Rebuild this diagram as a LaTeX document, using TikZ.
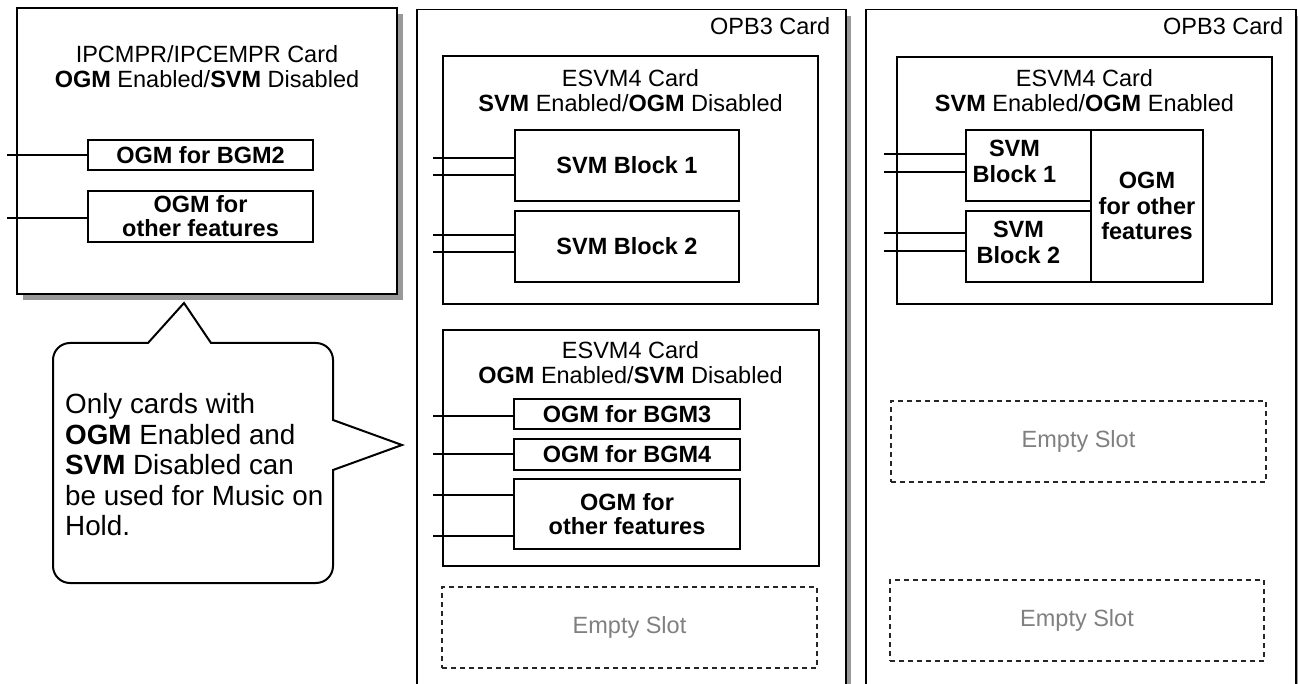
\documentclass[tikz,border=0pt]{standalone}
\usepackage{fontspec}
\setmainfont{Liberation Sans}
\begin{document}
\begin{tikzpicture}[x=1pt,y=-1pt,
  shadowfill/.style={fill=black!40,draw=none},
  card/.style={draw,fill=white,line width=1.5pt,inner sep=0pt},
  blk/.style={draw,fill=white,line width=1.4pt,inner sep=0pt,align=center,font=\bfseries\fontsize{23.5}{24}\selectfont},
  blklbl/.style={inner sep=0pt,align=center,font=\bfseries\fontsize{23.5}{26}\selectfont},
  ttl/.style={inner sep=0pt,align=center,font=\fontsize{23.5}{25}\selectfont},
  slotbox/.style={draw=black!85,dash pattern=on 5pt off 4pt,line width=1.2pt,text=black!50,inner sep=0pt,font=\fontsize{23.5}{25}\selectfont},
  wire/.style={line width=2.2pt}]

\useasboundingbox (0,0) rectangle (1298,684);
\clip (0,0) rectangle (1298,684);

% ---------- left card ----------
\fill[shadowfill] (23,14) rectangle (403,300);
\node[card,minimum width=380pt,minimum height=286pt] (ipc) at (207,151) {};
\node[ttl] (ipct) at (207,67) {IPCMPR/IPCEMPR Card\\\textbf{OGM} Enabled/\textbf{SVM} Disabled};
\node[blk,minimum width=225pt,minimum height=30pt] (bgmtwo) at (200.5,155) {OGM for BGM2};
\node[blk,minimum width=225pt,minimum height=51pt] (ogmA) at (200.5,216.5) {OGM for\\other features};
\coordinate (wA1) at (7,155);
\coordinate (wA2) at (7,218);
\draw[wire] (wA1) -- (wA1 -| bgmtwo.west);
\draw[wire] (wA2) -- (wA2 -| ogmA.west);

% ---------- callout ----------
\draw[line width=2pt,fill=white] (70,343) -- (148,343) -- (184,303) -- (211,343) -- (316,343)
  .. controls (325.39,343) and (333,350.61) .. (333,360)
  -- (333,420) -- (402,445) -- (333,470) -- (333,566)
  .. controls (333,575.39) and (325.39,583) .. (316,583)
  -- (70,583)
  .. controls (60.61,583) and (53,575.39) .. (53,566)
  -- (53,360)
  .. controls (53,350.61) and (60.61,343) .. (70,343) -- cycle;
\node[inner sep=0pt,align=left,anchor=west,font=\fontsize{27.8}{30.5}\selectfont] (callt) at (65,465)
  {Only cards with\\\textbf{OGM} Enabled and\\\textbf{SVM} Disabled can\\be used for Music on\\Hold.};

% ---------- middle OPB3 card ----------
\fill[shadowfill] (422,16) rectangle (851,720);
\node[card,minimum width=429pt,minimum height=711pt,anchor=north west] (opbA) at (416,9) {};
\node[ttl,anchor=base east] (opbAl) at (830.5,34.3) {OPB3 Card};

\node[card,line width=1.3pt,minimum width=375pt,minimum height=248pt] (esvA) at (630.5,180) {};
\node[ttl] (esvAt) at (630.5,91) {ESVM4 Card\\\textbf{SVM} Enabled/\textbf{OGM} Disabled};
\node[blk,minimum width=224pt,minimum height=71pt] (sbA1) at (627,165.5) {SVM Block 1};
\node[blk,minimum width=224pt,minimum height=71pt] (sbA2) at (627,246.5) {SVM Block 2};
\coordinate (wB1) at (433,158);
\coordinate (wB2) at (433,175);
\coordinate (wB3) at (433,235);
\coordinate (wB4) at (433,252);
\draw[wire] (wB1) -- (wB1 -| sbA1.west);
\draw[wire] (wB2) -- (wB2 -| sbA1.west);
\draw[wire] (wB3) -- (wB3 -| sbA2.west);
\draw[wire] (wB4) -- (wB4 -| sbA2.west);

\node[card,line width=1.3pt,minimum width=376pt,minimum height=236pt] (esvB) at (631,448) {};
\node[ttl] (esvBt) at (630.5,362.4) {ESVM4 Card\\\textbf{OGM} Enabled/\textbf{SVM} Disabled};
\node[blk,minimum width=226pt,minimum height=30pt] (bgmthree) at (627,414) {OGM for BGM3};
\node[blk,minimum width=226pt,minimum height=31pt] (bgmfour) at (627,454.5) {OGM for BGM4};
\node[blk,minimum width=226pt,minimum height=70pt] (ogmB) at (627,514) {OGM for\\other features};
\coordinate (wC1) at (433,416);
\coordinate (wC2) at (433,454);
\coordinate (wC3) at (433,495);
\coordinate (wC4) at (433,536);
\draw[wire] (wC1) -- (wC1 -| bgmthree.west);
\draw[wire] (wC2) -- (wC2 -| bgmfour.west);
\draw[wire] (wC3) -- (wC3 -| ogmB.west);
\draw[wire] (wC4) -- (wC4 -| ogmB.west);

\node[slotbox,minimum width=375pt,minimum height=81pt] (slotA) at (629.5,627.5) {Empty Slot};

% ---------- right OPB3 card ----------
\fill[shadowfill] (871,16) rectangle (1301,720);
\node[card,minimum width=430pt,minimum height=711pt,anchor=north west] (opbB) at (865,9) {};
\node[ttl,anchor=base east] (opbBl) at (1283.5,35) {OPB3 Card};

\node[card,line width=1.3pt,minimum width=375pt,minimum height=247pt] (esvC) at (1084.5,180.5) {};
\node[ttl] (esvCt) at (1084.5,91) {ESVM4 Card\\\textbf{SVM} Enabled/\textbf{OGM} Enabled};
\node[blk,minimum width=125pt,minimum height=71pt] (sbC1) at (1028.5,165.5) {};
\node[blklbl] (sbC1l) at (1014.5,161.3) {SVM\\Block 1};
\node[blk,minimum width=125pt,minimum height=71pt] (sbC2) at (1028.5,246.5) {};
\node[blklbl] (sbC2l) at (1018.5,242.5) {SVM\\Block 2};
\node[blk,minimum width=112pt,minimum height=152pt,font=\bfseries\fontsize{23.5}{25.5}\selectfont] (ogmC) at (1147,206) {OGM\\for other\\features};
\coordinate (wD1) at (884,154);
\coordinate (wD2) at (884,172);
\coordinate (wD3) at (884,233);
\coordinate (wD4) at (884,251);
\draw[wire] (wD1) -- (wD1 -| sbC1.west);
\draw[wire] (wD2) -- (wD2 -| sbC1.west);
\draw[wire] (wD3) -- (wD3 -| sbC2.west);
\draw[wire] (wD4) -- (wD4 -| sbC2.west);

\node[slotbox,minimum width=375pt,minimum height=81pt] (slotB) at (1078.5,441.5) {Empty Slot};
\node[slotbox,minimum width=374pt,minimum height=81pt] (slotC) at (1077,620.5) {Empty Slot};
\end{tikzpicture}
\end{document}
